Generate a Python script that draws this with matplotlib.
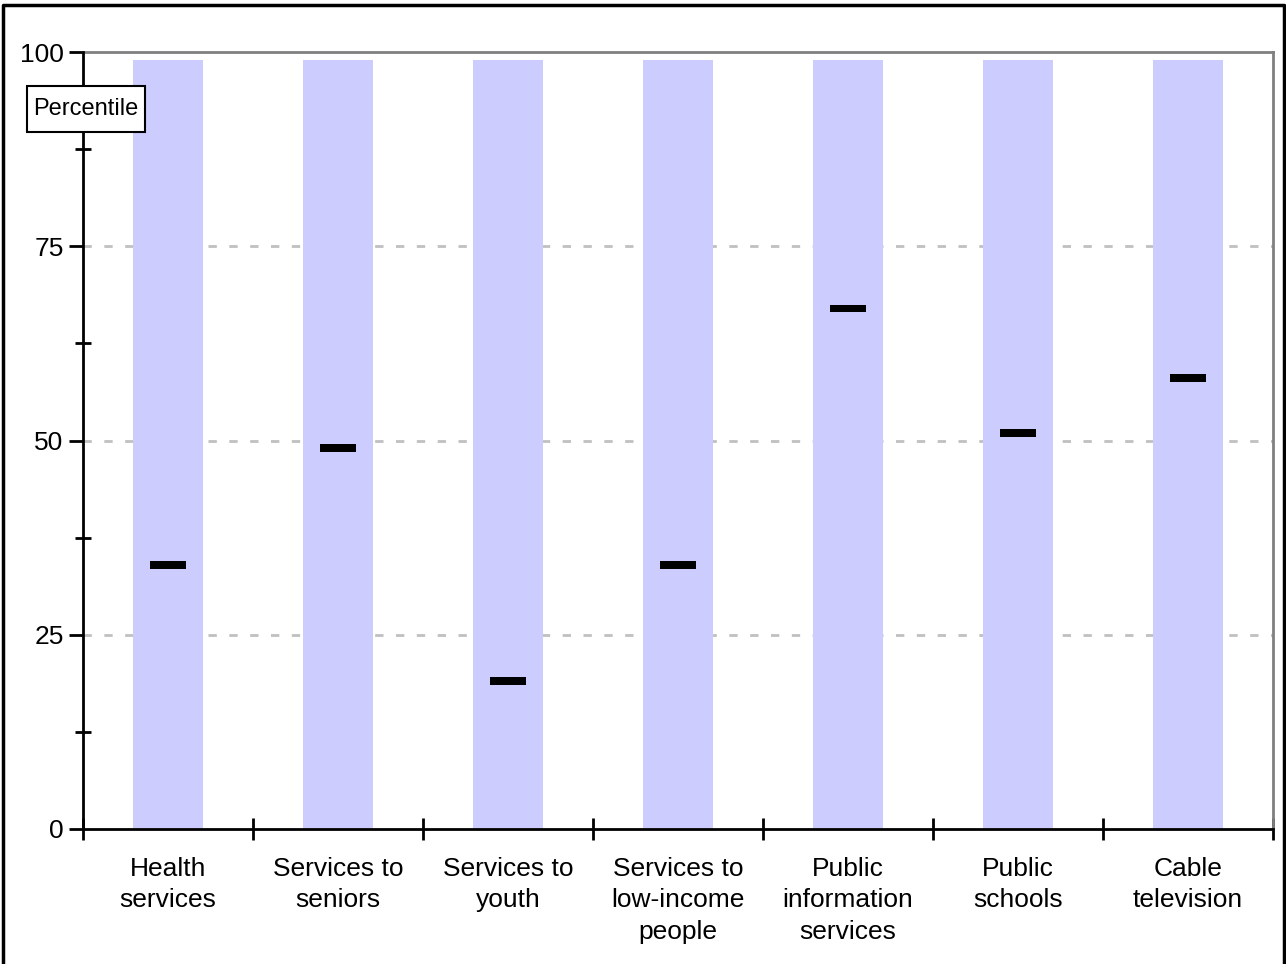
import matplotlib.pyplot as plt
from matplotlib.lines import Line2D
from matplotlib.patches import Rectangle
import numpy as np

plt.rcParams['font.family'] = ['Liberation Sans', 'DejaVu Sans']

categories = ["Health\nservices", "Services to\nseniors", "Services to\nyouth",
              "Services to\nlow-income\npeople", "Public\ninformation\nservices",
              "Public\nschools", "Cable\ntelevision"]
percentile = [34, 49, 19, 34, 67, 51, 58]
bar_top = 99

fig = plt.figure(figsize=(12.86, 9.64), dpi=100)
ax = fig.add_axes([83 / 1286, 1 - 829 / 964, 1190 / 1286, 777 / 964])

x = np.arange(len(categories))
ax.bar(x, [bar_top] * len(x), width=0.41, color='#ccccff', zorder=1)
ax.bar(x, [1.0] * len(x), width=0.21, bottom=np.array(percentile) - 0.5,
       color='black', zorder=3)

# gridlines
for y in [25, 50, 75]:
    ax.axhline(y, color='#c0c0c0', lw=2, ls=(0, (3, 4.5)), zorder=0)

ax.set_xlim(-0.5, len(x) - 0.5)
ax.set_ylim(0, 100)
ax.set_yticks([0, 25, 50, 75, 100])
ax.set_yticks([12.5, 37.5, 62.5, 87.5], minor=True)
ax.set_xticks(x)
ax.set_xticklabels(categories, fontsize=19, linespacing=1.4)
ax.set_xticks(np.arange(len(x) + 1) - 0.5, minor=True)
ax.tick_params(axis='x', which='major', length=0, pad=20)
ax.tick_params(axis='x', which='minor', direction='inout', length=16, width=2)
ax.tick_params(axis='y', which='major', direction='out', length=10, width=2,
               labelsize=19, pad=4)
ax.tick_params(axis='y', which='minor', direction='inout', length=12, width=2)

for s in ['left', 'bottom']:
    ax.spines[s].set_linewidth(2)
    ax.spines[s].set_zorder(4)
for s in ['top', 'right']:
    ax.spines[s].set_color('#808080')
    ax.spines[s].set_linewidth(2)

# axis title box
ax.add_patch(Rectangle((-0.0471, 0.8970), 0.0992, 0.0592, transform=ax.transAxes,
                       fc='white', ec='black', lw=1.5, clip_on=False, zorder=5))
ax.text(0.0025, 0.9266, "Percentile", transform=ax.transAxes, fontsize=17,
        ha='center', va='center', zorder=6)

# figure border
fig.add_artist(Line2D([3 / 1286, 3 / 1286, 1284 / 1286, 1284 / 1286],
                      [0, 1 - 5 / 964, 1 - 5 / 964, 0],
                      transform=fig.transFigure, color='black', lw=2.5))

fig.savefig("out.png", dpi=100)
